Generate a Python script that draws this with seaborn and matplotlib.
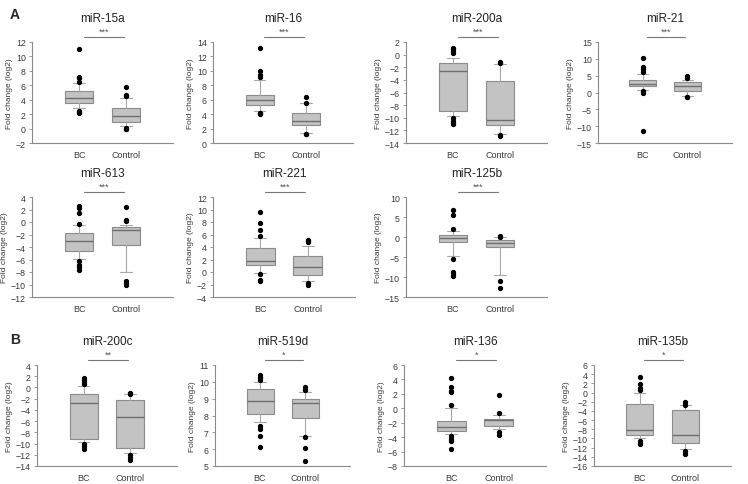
import matplotlib
matplotlib.use('Agg')
import matplotlib.pyplot as plt
import seaborn as sns

sns.set_style('ticks')
plt.rcParams['font.family'] = ['Liberation Sans', 'DejaVu Sans']

groups = ['BC', 'Control']

# per panel: [low whisker, q1, median, q3, high whisker] for BC and Control
names = ['miR-15a', 'miR-16', 'miR-200a', 'miR-21', 'miR-613', 'miR-221',
         'miR-125b', 'miR-200c', 'miR-519d', 'miR-136', 'miR-135b']
stars = ['***', '***', '***', '***', '***', '***', '***', '**', '*', '*', '*']

bc_stats = [
    [2.8, 3.5, 4.2, 5.2, 6.3],
    [4.5, 5.2, 5.9, 6.7, 8.8],
    [-9.7, -8.9, -2.6, -1.3, -0.6],
    [0.8, 1.8, 2.4, 3.6, 5.5],
    [-5.9, -4.6, -3.1, -1.8, -0.5],
    [-0.1, 1.1, 1.8, 3.8, 5.5],
    [-4.7, -1.3, -0.2, 0.6, 1.6],
    [-9.7, -9.1, -2.8, -1.2, 0.2],
    [7.6, 8.1, 8.85, 9.6, 10.0],
    [-3.6, -3.2, -2.6, -1.7, 0.1],
    [-10.0, -9.3, -8.2, -2.4, 0.0],
]
ctrl_stats = [
    [0.3, 0.9, 1.8, 2.9, 4.3],
    [1.4, 2.5, 3.1, 4.1, 5.5],
    [-12.5, -11.1, -10.3, -4.1, -1.5],
    [-0.9, 0.5, 2.0, 3.0, 3.8],
    [-8.0, -3.6, -1.3, -0.8, -0.4],
    [-1.4, -0.5, 0.8, 2.6, 4.1],
    [-9.6, -2.4, -1.6, -0.8, 0.0],
    [-11.6, -10.8, -5.2, -2.3, -1.2],
    [6.8, 7.85, 8.75, 9.0, 9.4],
    [-2.9, -2.5, -1.6, -1.5, -0.9],
    [-12.2, -11.0, -9.3, -3.9, -2.8],
]
bc_out = [
    [2.2, 2.3, 2.5, 6.5, 7.0, 7.1, 11.0],
    [4.0, 4.1, 4.2, 9.2, 9.4, 10.0, 13.1],
    [-11.0, -10.8, -10.5, -10.0, 0.3, 0.6, 0.9, 1.0],
    [-11.3, 0.0, 0.3, 6.0, 7.0, 7.5, 10.3],
    [-7.6, -7.2, -6.9, -6.3, -0.3, 1.4, 2.3, 2.5],
    [-1.5, -1.3, -0.3, 5.7, 6.8, 7.8, 9.6],
    [-9.8, -9.3, -8.8, -5.5, 2.0, 5.5, 6.8],
    [-10.9, -10.5, -10.0, 0.6, 1.0, 1.4, 1.6],
    [6.1, 6.8, 7.2, 7.4, 10.1, 10.2, 10.3, 10.4],
    [-5.7, -4.5, -4.3, -3.9, 0.4, 2.2, 2.4, 3.0, 4.2],
    [-11.3, -11.0, -10.5, 0.6, 0.9, 1.8, 3.4],
]
ctrl_out = [
    [-0.05, 0.0, 0.1, 4.5, 4.6, 5.7],
    [1.2, 1.3, 5.6, 6.4],
    [-12.9, -12.7, -1.3, -1.1],
    [-1.4, -1.2, 4.3, 5.0],
    [-10.0, -9.8, -9.5, 0.2, 0.4, 2.4],
    [-2.0, -1.8, 4.8, 5.0, 5.2],
    [-12.8, -11.0, 0.1, 0.3],
    [-12.9, -12.5, -12.0, -1.1, -1.0],
    [5.3, 6.05, 6.7, 9.5, 9.7],
    [-3.7, -3.3, -0.7, 1.9],
    [-13.3, -12.8, -2.7, -2.0],
]
ylims = [(-2, 12), (0, 14), (-14, 2), (-15, 15), (-12, 4), (-4, 12),
         (-15, 10), (-14, 4), (5, 11), (-8, 6), (-16, 6)]
ysteps = [2, 2, 2, 5, 2, 2, 5, 2, 1, 2, 2]

# axes boxes in pixels: left, right, top, bottom
W, H = 748, 485
boxes = [
    (32, 173, 43, 144), (213, 353, 43, 144), (406, 547, 43, 144), (598, 732, 43, 144),
    (32, 173, 198, 298), (213, 355, 198, 298), (406, 547, 198, 298),
    (37, 177, 366, 467), (215, 350, 366, 467), (404, 546, 366, 467), (594, 731, 366, 467),
]

fig = plt.figure(figsize=(W / 100, H / 100), dpi=100)
fig.patch.set_facecolor('white')

for i, name in enumerate(names):
    l, r, t, b = boxes[i]
    ax = fig.add_axes([l / W, 1 - b / H, (r - l) / W, (b - t) / H])
    stats = []
    for s, o, g in [(bc_stats[i], bc_out[i], 'BC'), (ctrl_stats[i], ctrl_out[i], 'Control')]:
        stats.append(dict(whislo=s[0], q1=s[1], med=s[2], q3=s[3], whishi=s[4],
                          fliers=o, label=g))
    ax.bxp(stats, positions=[0, 1], widths=0.6, patch_artist=True,
           boxprops=dict(facecolor='#c3c3c3', edgecolor='#8c8c8c', linewidth=0.8),
           medianprops=dict(color='#6e6e6e', linewidth=1.0),
           whiskerprops=dict(color='#a8a8a8', linewidth=0.8),
           capprops=dict(color='#a8a8a8', linewidth=0.8),
           flierprops=dict(marker='o', markerfacecolor='black', markeredgecolor='black',
                           markersize=2.8),
           capwidths=0.25)
    ax.set_xlim(-1, 2)
    lo, hi = ylims[i]
    ax.set_ylim(lo, hi)
    ax.set_yticks(range(lo, hi + 1, ysteps[i]))
    ax.set_xticks([0, 1])
    ax.set_xticklabels(groups)
    sns.despine(ax=ax)
    for sp in ['left', 'bottom']:
        ax.spines[sp].set_color('#8a8a8a')
        ax.spines[sp].set_linewidth(0.8)
    ax.tick_params(axis='y', labelsize=6.3, length=2.5, width=0.6, color='#8a8a8a',
                   pad=2, labelcolor='#3a3a3a')
    ax.tick_params(axis='x', labelsize=6.5, length=0, pad=5, labelcolor='#3a3a3a')
    ax.set_ylabel('Fold change (log2)', fontsize=6, color='#3a3a3a', labelpad=2)
    ax.set_title(name, fontsize=8.5, color='#222222', pad=15)
    # significance bar
    ax.plot([0.1, 0.95], [1.05, 1.05], color='#777777', linewidth=0.8,
            transform=ax.get_xaxis_transform(), clip_on=False)
    ax.text(0.525, 1.06, stars[i], fontsize=6.5, color='#555555', ha='center', va='bottom',
            transform=ax.get_xaxis_transform())

fig.text(10 / W, 1 - 15 / H, 'A', fontsize=10, fontweight='bold', va='center')
fig.text(10 / W, 1 - 340 / H, 'B', fontsize=10, fontweight='bold', va='center')

fig.savefig('out.png', dpi=100)
